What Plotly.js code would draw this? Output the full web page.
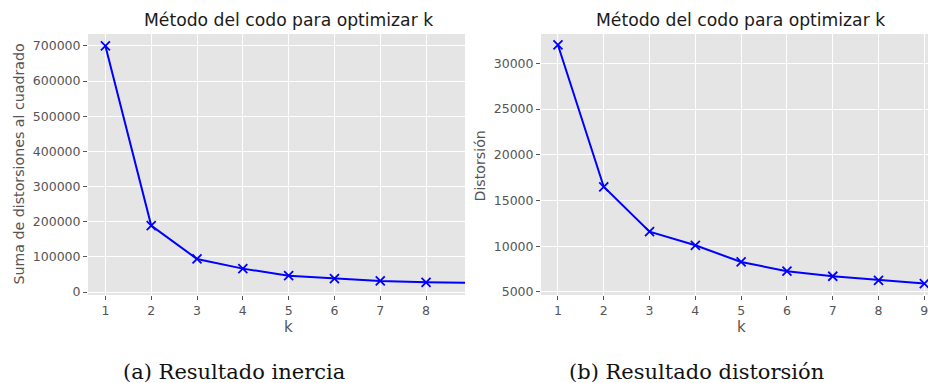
<!DOCTYPE html>
<html>
<head>
<meta charset="utf-8">
<script src="https://cdn.plot.ly/plotly-3.0.1.min.js"></script>
<style>
  html, body { margin: 0; padding: 0; background: #ffffff; overflow: hidden; }
  #chart { width: 928px; height: 383px; }
</style>
</head>
<body>
<div id="chart"></div>
<script>
// Elbow-method results: inertia (left) and distortion (right) for k = 1..9
const kValues = [1, 2, 3, 4, 5, 6, 7, 8, 9];
const inertia = [700000, 189000, 94000, 66500, 46500, 38000, 31500, 27600, 26000];
const distortion = [32000, 16500, 11600, 10100, 8280, 7270, 6720, 6280, 5920];
const kTicks = [1, 2, 3, 4, 5, 6, 7, 8, 9];

const plotTitle = 'Método del codo para optimizar k';
const leftYLabel = 'Suma de distorsiones al cuadrado';
const rightYLabel = 'Distorsión';
const xLabel = 'k';
const captionA = '(a) Resultado inercia';
const captionB = '(b) Resultado distorsión';

const W = 928, H = 383;
const px = x => x / W;
const py = y => 1 - y / H;

const lineStyle = { color: '#0000ff', width: 2 };
const markerStyle = { symbol: 'x-thin', size: 9, line: { color: '#0000ff', width: 1.8 }, color: '#0000ff' };

const traces = [
  { x: kValues, y: inertia, xaxis: 'x', yaxis: 'y', mode: 'lines+markers',
    line: lineStyle, marker: markerStyle, hoverinfo: 'x+y', showlegend: false, cliponaxis: true },
  { x: kValues, y: distortion, xaxis: 'x2', yaxis: 'y2', mode: 'lines+markers',
    line: lineStyle, marker: markerStyle, hoverinfo: 'x+y', showlegend: false, cliponaxis: true }
];

const tickFont = { family: 'DejaVu Sans', size: 12.5, color: '#555555' };
const axisCommon = {
  showgrid: true, gridcolor: '#ffffff', gridwidth: 1,
  zeroline: false, showline: false,
  ticks: 'outside', ticklen: 4, tickwidth: 1, tickcolor: '#555555',
  tickfont: tickFont, fixedrange: true, ticklabeloverflow: 'allow'
};

const layout = {
  width: W, height: H,
  margin: { l: 0, r: 0, t: 0, b: 0 },
  paper_bgcolor: '#ffffff',
  plot_bgcolor: '#e5e5e5',
  showlegend: false,
  xaxis: Object.assign({}, axisCommon, {
    domain: [px(88), px(465)], range: [0.62, 8.85], anchor: 'y',
    tickvals: kTicks, ticktext: kTicks.map(String)
  }),
  yaxis: Object.assign({}, axisCommon, {
    domain: [py(295), py(34)], range: [-8500, 734000], anchor: 'x',
    tick0: 0, dtick: 100000, tickformat: 'd'
  }),
  xaxis2: Object.assign({}, axisCommon, {
    domain: [px(541), 1], range: [0.63, 9.08], anchor: 'y2',
    tickvals: kTicks, ticktext: kTicks.map(String)
  }),
  yaxis2: Object.assign({}, axisCommon, {
    domain: [py(295), py(34)], range: [4670, 33200], anchor: 'x2',
    tick0: 5000, dtick: 5000, tickformat: 'd'
  }),
  annotations: [
    { text: plotTitle, xref: 'paper', yref: 'paper', x: px(288), y: py(20),
      showarrow: false, xanchor: 'center', yanchor: 'middle',
      font: { family: 'DejaVu Sans', size: 17.2, color: '#1a1a1a' } },
    { text: plotTitle, xref: 'paper', yref: 'paper', x: px(740), y: py(20),
      showarrow: false, xanchor: 'center', yanchor: 'middle',
      font: { family: 'DejaVu Sans', size: 17.2, color: '#1a1a1a' } },
    { text: leftYLabel, xref: 'paper', yref: 'paper', x: px(18), y: py(164.5),
      showarrow: false, textangle: -90, xanchor: 'center', yanchor: 'middle',
      font: { family: 'DejaVu Sans', size: 14.2, color: '#555555' } },
    { text: rightYLabel, xref: 'paper', yref: 'paper', x: px(479), y: py(166.5),
      showarrow: false, textangle: -90, xanchor: 'center', yanchor: 'middle',
      font: { family: 'DejaVu Sans', size: 14.2, color: '#555555' } },
    { text: xLabel, xref: 'paper', yref: 'paper', x: px(288.5), y: py(327),
      showarrow: false, xanchor: 'center', yanchor: 'middle',
      font: { family: 'DejaVu Sans', size: 15, color: '#555555' } },
    { text: xLabel, xref: 'paper', yref: 'paper', x: px(741), y: py(327),
      showarrow: false, xanchor: 'center', yanchor: 'middle',
      font: { family: 'DejaVu Sans', size: 15, color: '#555555' } },
    { text: captionA, xref: 'paper', yref: 'paper', x: px(234), y: py(372),
      showarrow: false, xanchor: 'center', yanchor: 'middle',
      font: { family: 'DejaVu Serif', size: 21, color: '#111111' } },
    { text: captionB, xref: 'paper', yref: 'paper', x: px(696.5), y: py(372),
      showarrow: false, xanchor: 'center', yanchor: 'middle',
      font: { family: 'DejaVu Serif', size: 21, color: '#111111' } }
  ]
};

Plotly.newPlot('chart', traces, layout, { displayModeBar: false, staticPlot: true });
</script>
</body>
</html>
